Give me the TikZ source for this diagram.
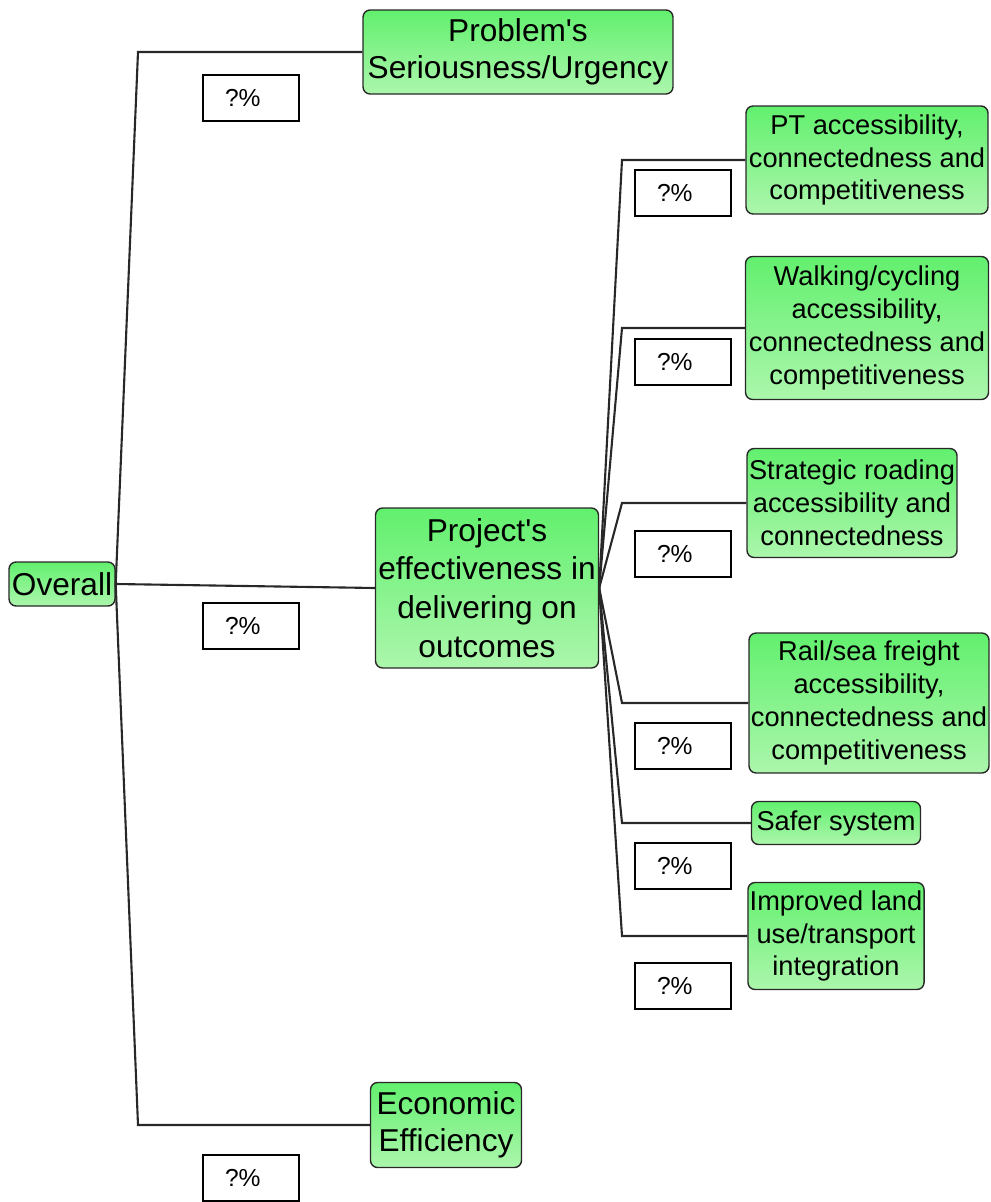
\documentclass[tikz,border=0pt]{standalone}
\usepackage{fontspec}
\setmainfont{Liberation Sans}[Ligatures=TeXOff]
\definecolor{boxtop}{RGB}{98,240,110}
\definecolor{boxbot}{RGB}{172,246,172}
\definecolor{edge}{RGB}{40,40,40}

\begin{document}
\begin{tikzpicture}[x=0.02cm, y=-0.02cm,
  goal/.style={draw=edge, line width=0.8pt, rounded corners=4pt, top color=boxtop, bottom color=boxbot, align=center, inner sep=1pt, font=\fontsize{18}{21}\selectfont},
  subgoal/.style={goal, font=\fontsize{15.5}{18.7}\selectfont},
  weight/.style={draw, line width=1pt, minimum height=0.92cm, text width=1.04cm, inner xsep=0.44cm, align=left, font=\fontsize{14}{16}\selectfont},
  link/.style={draw=edge, line width=1.2pt}]

\useasboundingbox (0,0) rectangle (990,1202);

% root and first level
\node[goal, minimum width=2.12cm, minimum height=0.88cm] (ov) at (62,584) {Overall};
\node[goal, minimum width=6.2cm, minimum height=1.68cm] (prob) at (518,52) {Problem's\\Seriousness/Urgency};
\node[goal, minimum width=4.46cm, minimum height=3.2cm, font=\fontsize{18}{22}\selectfont] (proj) at (487,588) {Project's\\effectiveness in\\delivering on\\outcomes};
\node[goal, minimum width=3.02cm, minimum height=1.7cm] (econ) at (446,1125) {Economic\\Efficiency};

% outcomes
\node[subgoal, minimum width=4.84cm, minimum height=2.16cm] (pt) at (867,160) {PT accessibility,\\connectedness and\\competitiveness};
\node[subgoal, minimum width=4.86cm, minimum height=2.86cm] (walk) at (867,328) {Walking/cycling\\accessibility,\\connectedness and\\competitiveness};
\node[subgoal, minimum width=4.2cm, minimum height=2.18cm] (strat) at (852,503) {Strategic roading\\accessibility and\\connectedness};
\node[subgoal, minimum width=4.8cm, minimum height=2.8cm] (rail) at (869,703) {Rail/sea freight\\accessibility,\\connectedness and\\competitiveness};
\node[subgoal, minimum width=3.38cm, minimum height=0.86cm] (safer) at (836,823) {Safer system};
\node[subgoal, minimum width=3.46cm, minimum height=2.14cm] (impr) at (836,936) {Improved land\\use/transport\\integration};

% weights
\node[weight] (wprob) at (251,98) {?\%};
\node[weight] (wproj) at (251,626) {?\%};
\node[weight] (wecon) at (251,1178) {?\%};
\node[weight] (wpt) at (683,193) {?\%};
\node[weight] (wwalk) at (683,362) {?\%};
\node[weight] (wstrat) at (683,554) {?\%};
\node[weight] (wrail) at (683,746) {?\%};
\node[weight] (wsafer) at (683,866) {?\%};
\node[weight] (wimpr) at (683,986) {?\%};

% connectors
\coordinate (bendA) at (138,0);
\coordinate (bendB) at (622,0);
\draw[link] (ov.east) -- (bendA |- prob.west) -- (prob.west);
\draw[link] (ov.east) -- (proj.west);
\draw[link] (ov.east) -- (bendA |- econ.west) -- (econ.west);

\draw[link] (proj.east) -- (bendB |- pt.west) -- (pt.west);
\draw[link] (proj.east) -- (bendB |- walk.west) -- (walk.west);
\draw[link] (proj.east) -- (bendB |- strat.west) -- (strat.west);
\draw[link] (proj.east) -- (bendB |- rail.west) -- (rail.west);
\draw[link] (proj.east) -- (bendB |- safer.west) -- (safer.west);
\draw[link] (proj.east) -- (bendB |- impr.west) -- (impr.west);
\end{tikzpicture}
\end{document}
